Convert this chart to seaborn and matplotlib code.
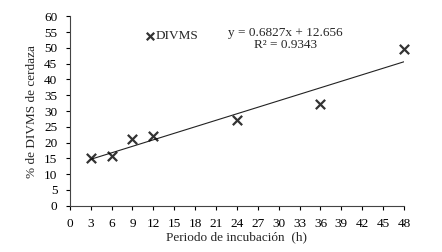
import pandas as pd
import matplotlib
matplotlib.use("Agg")
import matplotlib.pyplot as plt
import seaborn as sns

# Datos
horas = [3, 6, 9, 12, 24, 36, 48]
divms = [15.0, 15.8, 21.0, 22.2, 27.2, 32.2, 49.8]
x_ticks = list(range(0, 49, 3))
y_ticks = list(range(0, 61, 5))

df = pd.DataFrame({"horas": horas, "divms": divms})

sns.set_style("ticks")
plt.rcParams["font.family"] = ["Liberation Serif", "DejaVu Serif"]

fig = plt.figure(figsize=(4.42, 2.52), dpi=100)
ax = fig.add_axes([0.158, 0.184, 0.756, 0.751])

sns.regplot(x="horas", y="divms", data=df, ax=ax, ci=None, truncate=True,
            marker="x", color="black",
            scatter_kws={"s": 45, "linewidths": 1.6, "zorder": 3, "clip_on": False},
            line_kws={"lw": 0.8, "color": "#222222"})

ax.set_xlim(0, 48)
ax.set_ylim(0, 60)
ax.set_xticks(x_ticks)
ax.set_yticks(y_ticks)
ax.tick_params(labelsize=9.5, length=3, width=0.8, pad=6, colors="black")
for s in ["top", "right"]:
    ax.spines[s].set_visible(False)
for s in ["left", "bottom"]:
    ax.spines[s].set_linewidth(0.8)
    ax.spines[s].set_color("#444444")

ax.set_xlabel("Periodo de incubación  (h)", fontsize=9.5, labelpad=1)
ax.set_ylabel("% de DIVMS de cerdaza", fontsize=9.5, labelpad=4)

ax.legend([ax.collections[0]], ["DIVMS"], loc="center left",
          bbox_to_anchor=(0.20, 0.895), frameon=False,
          fontsize=9.5, handlelength=1.0, handletextpad=-0.1,
          markerscale=0.8, borderpad=0)

ax.text(0.645, 0.88, "y = 0.6827x + 12.656\nR² = 0.9343", transform=ax.transAxes,
        ha="center", va="center", fontsize=9.5, linespacing=1.0)

fig.savefig("out.png", dpi=100)
